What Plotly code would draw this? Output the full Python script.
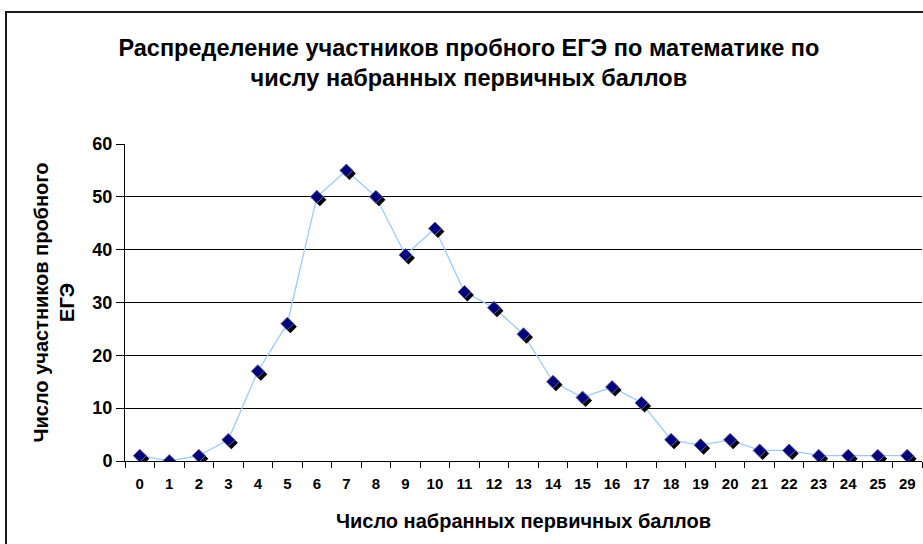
import plotly.graph_objects as go

categories = ["0", "1", "2", "3", "4", "5", "6", "7", "8", "9", "10", "11", "12", "13",
              "14", "15", "16", "17", "18", "19", "20", "21", "22", "23", "24", "25", "29"]
counts = [1, 0, 1, 4, 17, 26, 50, 55, 50, 39, 44, 32, 29, 24, 15, 12, 14, 11, 4, 3, 4, 2, 2, 1, 1, 1, 1]
y_ticks = [0, 10, 20, 30, 40, 50, 60]

title_text = "Распределение участников пробного ЕГЭ по математике по<br>числу набранных первичных баллов"
x_title = "Число набранных первичных баллов"
y_title = "Число участников пробного<br>ЕГЭ"

FONT = "Liberation Sans, Arial, sans-serif"
W, H = 923, 544
ML, MR, MT, MB = 125, 1, 144, 83
plot_w = W - ML - MR
plot_h = H - MT - MB
n = len(categories)
xr = [-0.5, n - 0.5]
yr = [0, 60]
# shadow offset (pixels) converted to axis units
sx = 3 * (xr[1] - xr[0]) / plot_w
sy = 3 * (yr[1] - yr[0]) / plot_h

fig = go.Figure()
fig.add_trace(go.Scatter(x=categories, y=counts, mode="lines",
                         line=dict(color="#99CCFF", width=1.3),
                         xaxis="x", yaxis="y", hoverinfo="skip", showlegend=False))
fig.add_trace(go.Scatter(x=categories, y=counts, mode="markers",
                         marker=dict(symbol="diamond", size=10, color="#000000",
                                     line=dict(width=0)),
                         xaxis="x2", yaxis="y2", hoverinfo="skip", showlegend=False))
fig.add_trace(go.Scatter(x=categories, y=counts, mode="markers",
                         marker=dict(symbol="diamond", size=10, color="#000080",
                                     line=dict(width=1, color="#6A6A9A")),
                         xaxis="x3", yaxis="y3", showlegend=False))

hidden = dict(visible=False, showgrid=False, zeroline=False)
fig.update_layout(
    width=W, height=H,
    margin=dict(l=ML, r=MR, t=MT, b=MB),
    paper_bgcolor="white", plot_bgcolor="white",
    font=dict(family=FONT, color="black"),
    title=dict(text=title_text, x=0.508, xanchor="center", y=1 - 55.5 / H, yanchor="middle",
               font=dict(size=23.5, family=FONT, color="black", weight="bold")),
    xaxis=dict(type="category", categoryorder="array", categoryarray=categories,
               range=xr, showgrid=False, zeroline=False,
               showline=True, linecolor="black", linewidth=1,
               ticks="outside", ticklen=6, tickcolor="black", tickson="boundaries",
               ticklabelstandoff=9,
               tickfont=dict(size=15, family=FONT, color="black", weight="bold"),
               title=dict(text=x_title, standoff=22,
                          font=dict(size=20, family=FONT, color="black", weight="bold"))),
    yaxis=dict(range=yr, tickvals=y_ticks, showgrid=True, gridcolor="black", gridwidth=1,
               zeroline=False, showline=True, linecolor="black", linewidth=1,
               ticks="outside", ticklen=8, tickcolor="black",
               tickfont=dict(size=18, family=FONT, color="black", weight="bold"),
               title=dict(text=y_title, standoff=12,
                          font=dict(size=20, family=FONT, color="black", weight="bold"))),
    xaxis2=dict(type="category", categoryorder="array", categoryarray=categories,
                range=[xr[0] - sx, xr[1] - sx], overlaying="x", **hidden),
    yaxis2=dict(range=[yr[0] + sy, yr[1] + sy], overlaying="y", **hidden),
    xaxis3=dict(type="category", categoryorder="array", categoryarray=categories,
                range=xr, overlaying="x", **hidden),
    yaxis3=dict(range=yr, overlaying="y", **hidden),
    shapes=[dict(type="rect", xref="paper", yref="paper",
                 x0=(6 - ML) / plot_w, x1=1.2,
                 y0=-0.5, y1=1 + (MT - 12) / plot_h,
                 line=dict(color="#1a1a1a", width=2), fillcolor="rgba(0,0,0,0)",
                 layer="below")],
)

fig.write_html("out.html", config={"displayModeBar": False},
               post_script="document.body.style.margin='0';document.body.style.overflow='hidden';")
